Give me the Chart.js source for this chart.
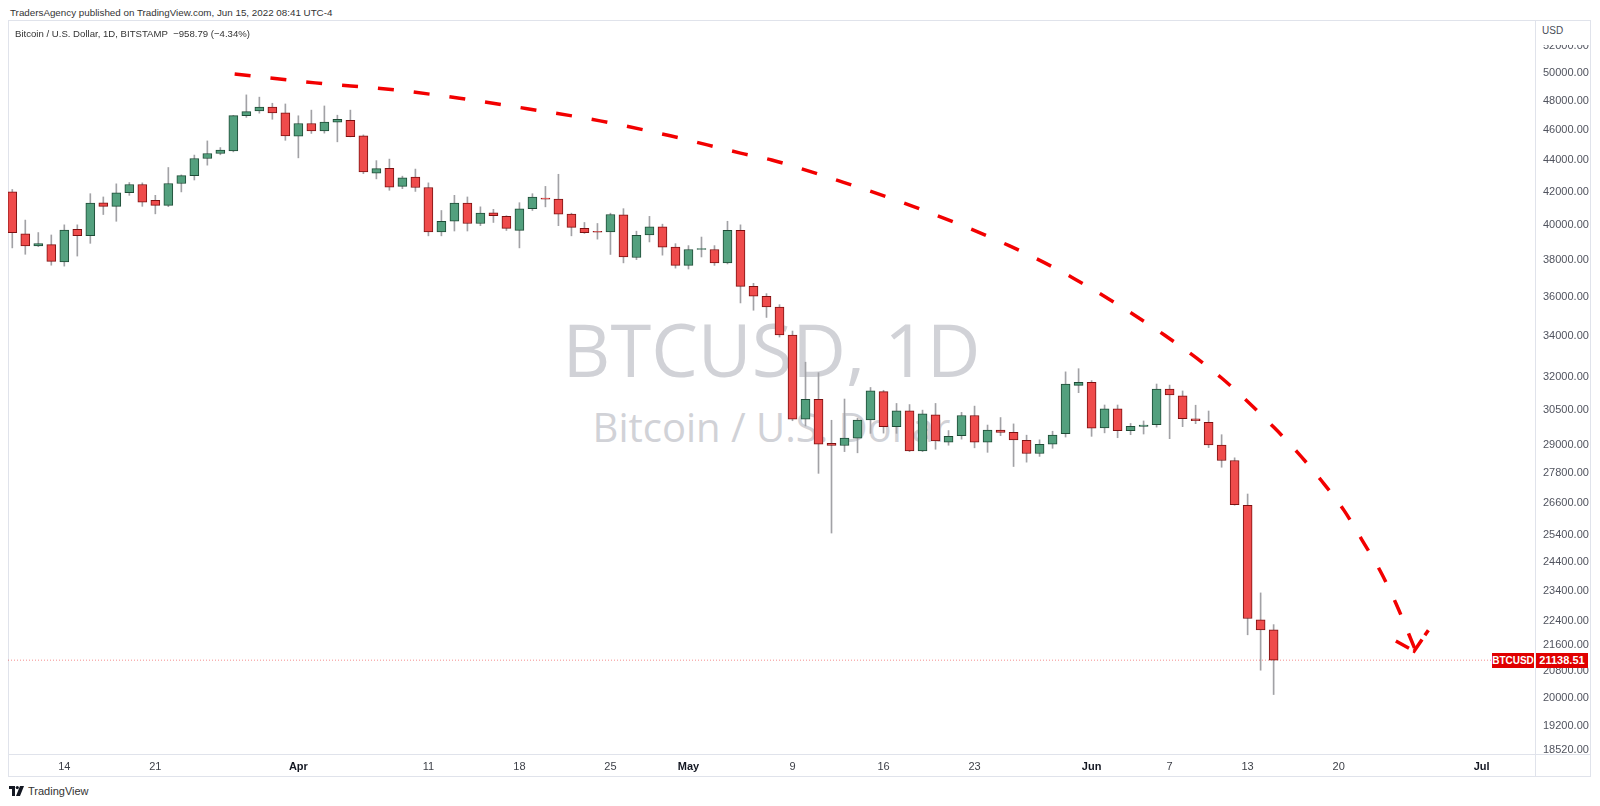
<!DOCTYPE html>
<html>
<head>
<meta charset="utf-8">
<script src="https://cdn.jsdelivr.net/npm/chart.js@4.4.0/dist/chart.umd.min.js"></script>
<style>
  body { margin: 0; background: #fff; }
  #page { position: relative; width: 1600px; height: 806px; overflow: hidden; font-family: "Liberation Sans", Arial, sans-serif; color: #131722; }
  #frame { position: absolute; left: 8px; top: 20px; width: 1583px; height: 757px; border: 1px solid #e0e3eb; box-sizing: border-box; }
  .hline { position: absolute; left: 8px; width: 1583px; height: 1px; background: #e0e3eb; }
  .vline { position: absolute; top: 20px; width: 1px; height: 757px; background: #e0e3eb; }
  #published { position: absolute; left: 10px; top: 7px; font-size: 9.8px; color: #333; }
  #symbol { position: absolute; left: 15px; top: 28px; font-size: 9.6px; color: #333; z-index: 3; }
  .wm { position: absolute; left: 8px; width: 1527px; text-align: center; font-family: "Open Sans", sans-serif; color: #d1d2d7; white-space: nowrap; }
  #wm1 { top: 299px; font-size: 74px; line-height: 100px; }
  #wm2 { top: 400px; font-size: 40px; line-height: 54px; }
  #chart { position: absolute; left: 0; top: 0; z-index: 2; }
  #usd { position: absolute; left: 1536px; top: 21px; width: 54px; height: 24px; background: #fff; font-size: 10px; line-height: 10px; padding: 5px 0 0 6px; box-sizing: border-box; color: #4a4e59; z-index: 3; }
  .tag { position: absolute; height: 15px; line-height: 15px; background: #e00000; color: #fff; font-size: 10px; font-weight: bold; text-align: center; z-index: 3; }
  #tagName { left: 1492px; width: 42px; }
  #tagPrice { left: 1536px; width: 52px; font-size: 11px; }
  #footer { position: absolute; left: 9px; top: 785px; font-size: 11px; color: #333; display: flex; align-items: center; gap: 4px; }
</style>
</head>
<body>
<div id="page">
  <div id="published">TradersAgency published on TradingView.com, Jun 15, 2022 08:41 UTC-4</div>
  <div id="frame"></div>
  <div class="hline" style="top:754px"></div>
  <div class="vline" style="left:1535px"></div>
  <div class="wm" id="wm1">BTCUSD, 1D</div>
  <div class="wm" id="wm2">Bitcoin / U.S. Dollar</div>
  <div id="symbol"></div>
  <canvas id="chart" width="1600" height="806"></canvas>
  <div id="usd">USD</div>
  <div class="tag" id="tagName">BTCUSD</div>
  <div class="tag" id="tagPrice"></div>
  <div id="footer">
    <svg width="15" height="10" viewBox="0 0 15 10"><path d="M0 0h6v10H3V3H0z" fill="#131722"/><circle cx="8.3" cy="1.6" r="1.6" fill="#131722"/><path d="M11 0h4l-4 10H7z" fill="#131722"/></svg>
    <span>TradingView</span>
  </div>
</div>
<script>
// daily candles, Mar 10 .. Jun 15 2022 (day 0 = Mar 14)
const firstDay = -4;
const opens = [42000, 39490, 38800, 38880, 37900, 39760, 39390, 41340, 41120, 41950, 42460, 41480, 41180, 42520, 43010, 44110, 44430, 44600, 46970, 47300, 47560, 47160,
  45570, 46430, 45920, 46520, 46640, 45600, 43170, 43470, 42340, 42920, 42270, 39600, 40230, 41320, 40100, 40730, 40520, 39700, 40980, 41620, 41560, 40650, 39810, 39600, 39600, 40610, 38150, 39430, 39910, 38730,
  37710, 38600, 38600, 37850, 39700, 36570, 36040, 35480, 34050, 30100, 30990, 29050, 28960, 29270, 30060, 31340, 29770, 30470, 28730, 30290, 29100, 29380, 30260, 29100, 29620, 29520, 29180, 28620, 29010, 29460, 31630,
  31770, 29710, 30560, 29600, 29780, 29860, 31450, 31150, 30110, 29960, 28980, 28330, 26530, 22430, 22097.30];
const highs = [42150, 40300, 39570, 39430, 40020, 40020, 41890, 41690, 42500, 42580, 42560, 41790, 43530, 43060, 44330, 45260, 44820, 46990, 48420, 48260, 47830, 47780,
  46960, 47350, 47640, 47000, 47350, 45660, 43970, 44070, 42980, 43430, 42560, 40870, 41790, 41690, 41090, 40940, 40560, 41340, 41890, 42340, 43100, 40710, 40160, 40100, 40710, 40980, 39650, 40520, 40060, 38930,
  38820, 39310, 38820, 40230, 40020, 36730, 36180, 35600, 34250, 32720, 32220, 30050, 31000, 30140, 31530, 31400, 30800, 30750, 30500, 30800, 29600, 30400, 30680, 29840, 30170, 29890, 29400, 29200, 29570, 32260, 32410,
  31850, 30730, 30730, 29910, 30020, 31690, 31640, 31370, 30720, 30460, 29420, 28440, 26970, 23330, 22270];
const lows = [38690, 38330, 38760, 37720, 37670, 38230, 38950, 40630, 40230, 41790, 41120, 40670, 41100, 42000, 42740, 43680, 44350, 44540, 46850, 47140, 46720, 45300,
  44150, 45760, 45780, 45200, 45530, 43140, 42810, 42100, 42200, 42030, 39380, 39380, 39660, 39660, 39970, 40160, 39690, 38690, 40870, 41090, 39970, 39380, 39520, 39190, 38320, 37850, 38030, 39030, 38280, 37560,
  37510, 38180, 37710, 37790, 35690, 35310, 34940, 33950, 30030, 29800, 27800, 25470, 28700, 28650, 29480, 29490, 29480, 28700, 28700, 28800, 28970, 29230, 28860, 28670, 29380, 28080, 28260, 28500, 28840, 29320, 31290,
  29350, 29500, 29290, 29420, 29450, 29750, 29250, 29770, 29900, 28870, 28050, 26530, 21940, 20830, 20100];
const closes = [39570, 38800, 38930, 37930, 39720, 39390, 41320, 41120, 41950, 42460, 41380, 41180, 42520, 43010, 44110, 44430, 44650, 46970, 47250, 47560, 47150, 45600,
  46430, 45920, 46520, 46710, 45550, 43250, 43460, 42300, 42870, 42270, 39600, 40230, 41320, 40100, 40710, 40560, 39810, 40970, 41680, 41560, 40650, 39870, 39560, 39590, 40630, 38180, 39410, 39910, 38730, 37710,
  38600, 38630, 37850, 39700, 36570, 36040, 35480, 34050, 30100, 30990, 29020, 28960, 29270, 30060, 31370, 29770, 30470, 28730, 30340, 29150, 29350, 30260, 29100, 29620, 29520, 29200, 28620, 29010, 29400, 31690, 31770,
  29700, 30560, 29600, 29780, 29840, 31450, 31190, 30120, 30030, 28980, 28330, 26550, 22470, 22097.30, 21138.51];

// x axis ticks (day numbers) and labels
const xTickDays = [0, 7, 18, 28, 35, 42, 48, 56, 63, 70, 79, 85, 91, 98, 109];
const xTickLabels = ['14', '21', 'Apr', '11', '18', '25', 'May', '9', '16', '23', 'Jun', '7', '13', '20', 'Jul'];
const monthLabels = ['Apr', 'May', 'Jun', 'Jul'];

// price axis ticks
const yTicks = [52000, 50000, 48000, 46000, 44000, 42000, 40000, 38000, 36000, 34000, 32000, 30500, 29000, 27800, 26600, 25400, 24400, 23400, 22400, 21600, 20800, 20000, 19200, 18520];

// hand drawn dashed trend curve + arrow head
const curveDays = [13.1, 19.3, 25.4, 30.4, 35.6, 41.2, 46.6, 52.0, 54.4, 59.7, 65.0, 72.7, 77.6, 84.6, 89.0, 93.0, 94.8, 96.7, 98.4, 99.8, 101.2, 102.4, 103.9];
const curvePrices = [49930, 49280, 48780, 48180, 47450, 46610, 45600, 44460, 44010, 42650, 41200, 38800, 37010, 34050, 31970, 29750, 28690, 27490, 26340, 25210, 24090, 22980, 21450];
const arrowDays = [102.4, 103.8, 104.9];
const arrowPrices = [21740, 21420, 22090];

const upFill = '#53a07e', upLine = '#1e4b36';
const downFill = '#ef4b4b', downLine = '#7c1111';

const lastClose = closes[closes.length - 1];
const prevClose = closes[closes.length - 2];
const chg = lastClose - prevClose;
const fmt = v => (v < 0 ? '\u2212' : '') + Math.abs(v).toFixed(2);
document.getElementById('symbol').textContent =
  'Bitcoin / U.S. Dollar, 1D, BITSTAMP\u00a0 ' + fmt(chg) + ' (' + fmt(chg / prevClose * 100) + '%)';
document.getElementById('tagPrice').textContent = lastClose.toFixed(2);

const bodies = opens.map((o, i) => ({ x: firstDay + i, y: [o, closes[i]] }));
const wicks = highs.map((h, i) => ({ x: firstDay + i, y: [lows[i], h] }));
const isUp = closes.map((c, i) => c >= opens[i]);

const xMin = -4.33, xMax = 113.1;

const priceTag = {
  id: 'priceTag',
  afterDraw(chart) {
    const y = chart.scales.y.getPixelForValue(lastClose);
    document.getElementById('tagName').style.top = (y - 7) + 'px';
    document.getElementById('tagPrice').style.top = (y - 7) + 'px';
  }
};

new Chart(document.getElementById('chart'), {
  type: 'bar',
  data: {
    datasets: [
      {
        type: 'line',
        data: curveDays.map((d, i) => ({ x: d, y: curvePrices[i] })),
        borderColor: '#f20000',
        borderWidth: 3.5,
        borderDash: [16, 20],
        pointRadius: 0,
        cubicInterpolationMode: 'monotone',
        order: -2
      },
      {
        type: 'line',
        data: arrowDays.map((d, i) => ({ x: d, y: arrowPrices[i] })),
        borderColor: '#f20000',
        borderWidth: 3.5,
        borderDash: [15, 5],
        pointRadius: 0,
        tension: 0,
        order: -2
      },
      {
        type: 'line',
        data: [{ x: xMin, y: lastClose }, { x: xMax, y: lastClose }],
        borderColor: 'rgba(230,0,0,0.45)',
        borderWidth: 1,
        borderDash: [1, 2],
        pointRadius: 0,
        order: -1
      },
      {
        data: bodies,
        backgroundColor: isUp.map(u => u ? upFill : downFill),
        borderColor: isUp.map(u => u ? upLine : downLine),
        borderWidth: 1,
        borderSkipped: false,
        barThickness: 9,
        minBarLength: 1,
        grouped: false,
        order: 0
      },
      {
        data: wicks,
        backgroundColor: '#a2a2a6',
        barThickness: 1,
        grouped: false,
        order: 1
      }
    ]
  },
  options: {
    responsive: false,
    animation: false,
    devicePixelRatio: 1,
    layout: { padding: { left: 8, top: 21, right: 9, bottom: 29 } },
    plugins: { legend: { display: false }, tooltip: { enabled: false } },
    scales: {
      x: {
        type: 'linear',
        min: xMin,
        max: xMax,
        offset: false,
        grid: { display: false, offset: false, drawTicks: false },
        border: { display: false },
        afterBuildTicks: s => { s.ticks = xTickDays.map(v => ({ value: v })); },
        afterFit: s => { s.height = 23; },
        ticks: {
          autoSkip: false,
          maxRotation: 0,
          padding: 6,
          font: ctx => ({ family: 'Liberation Sans', size: 11, weight: monthLabels.includes(xTickLabels[ctx.index]) ? 'bold' : 'normal' }),
          color: ctx => monthLabels.includes(xTickLabels[ctx.index]) ? '#131722' : '#3c3f47',
          callback: (v, i) => xTickLabels[i]
        }
      },
      y: {
        type: 'logarithmic',
        position: 'right',
        min: 18422,
        max: 53960,
        grid: { display: false, drawTicks: false },
        border: { display: false },
        afterBuildTicks: s => { s.ticks = yTicks.map(v => ({ value: v })); },
        afterFit: s => { s.width = 56; },
        ticks: {
          autoSkip: false,
          padding: 8,
          font: { family: 'Liberation Sans', size: 11 },
          color: '#50535e',
          callback: v => Number(v).toFixed(2)
        }
      }
    }
  },
  plugins: [priceTag]
});
</script>
</body>
</html>
